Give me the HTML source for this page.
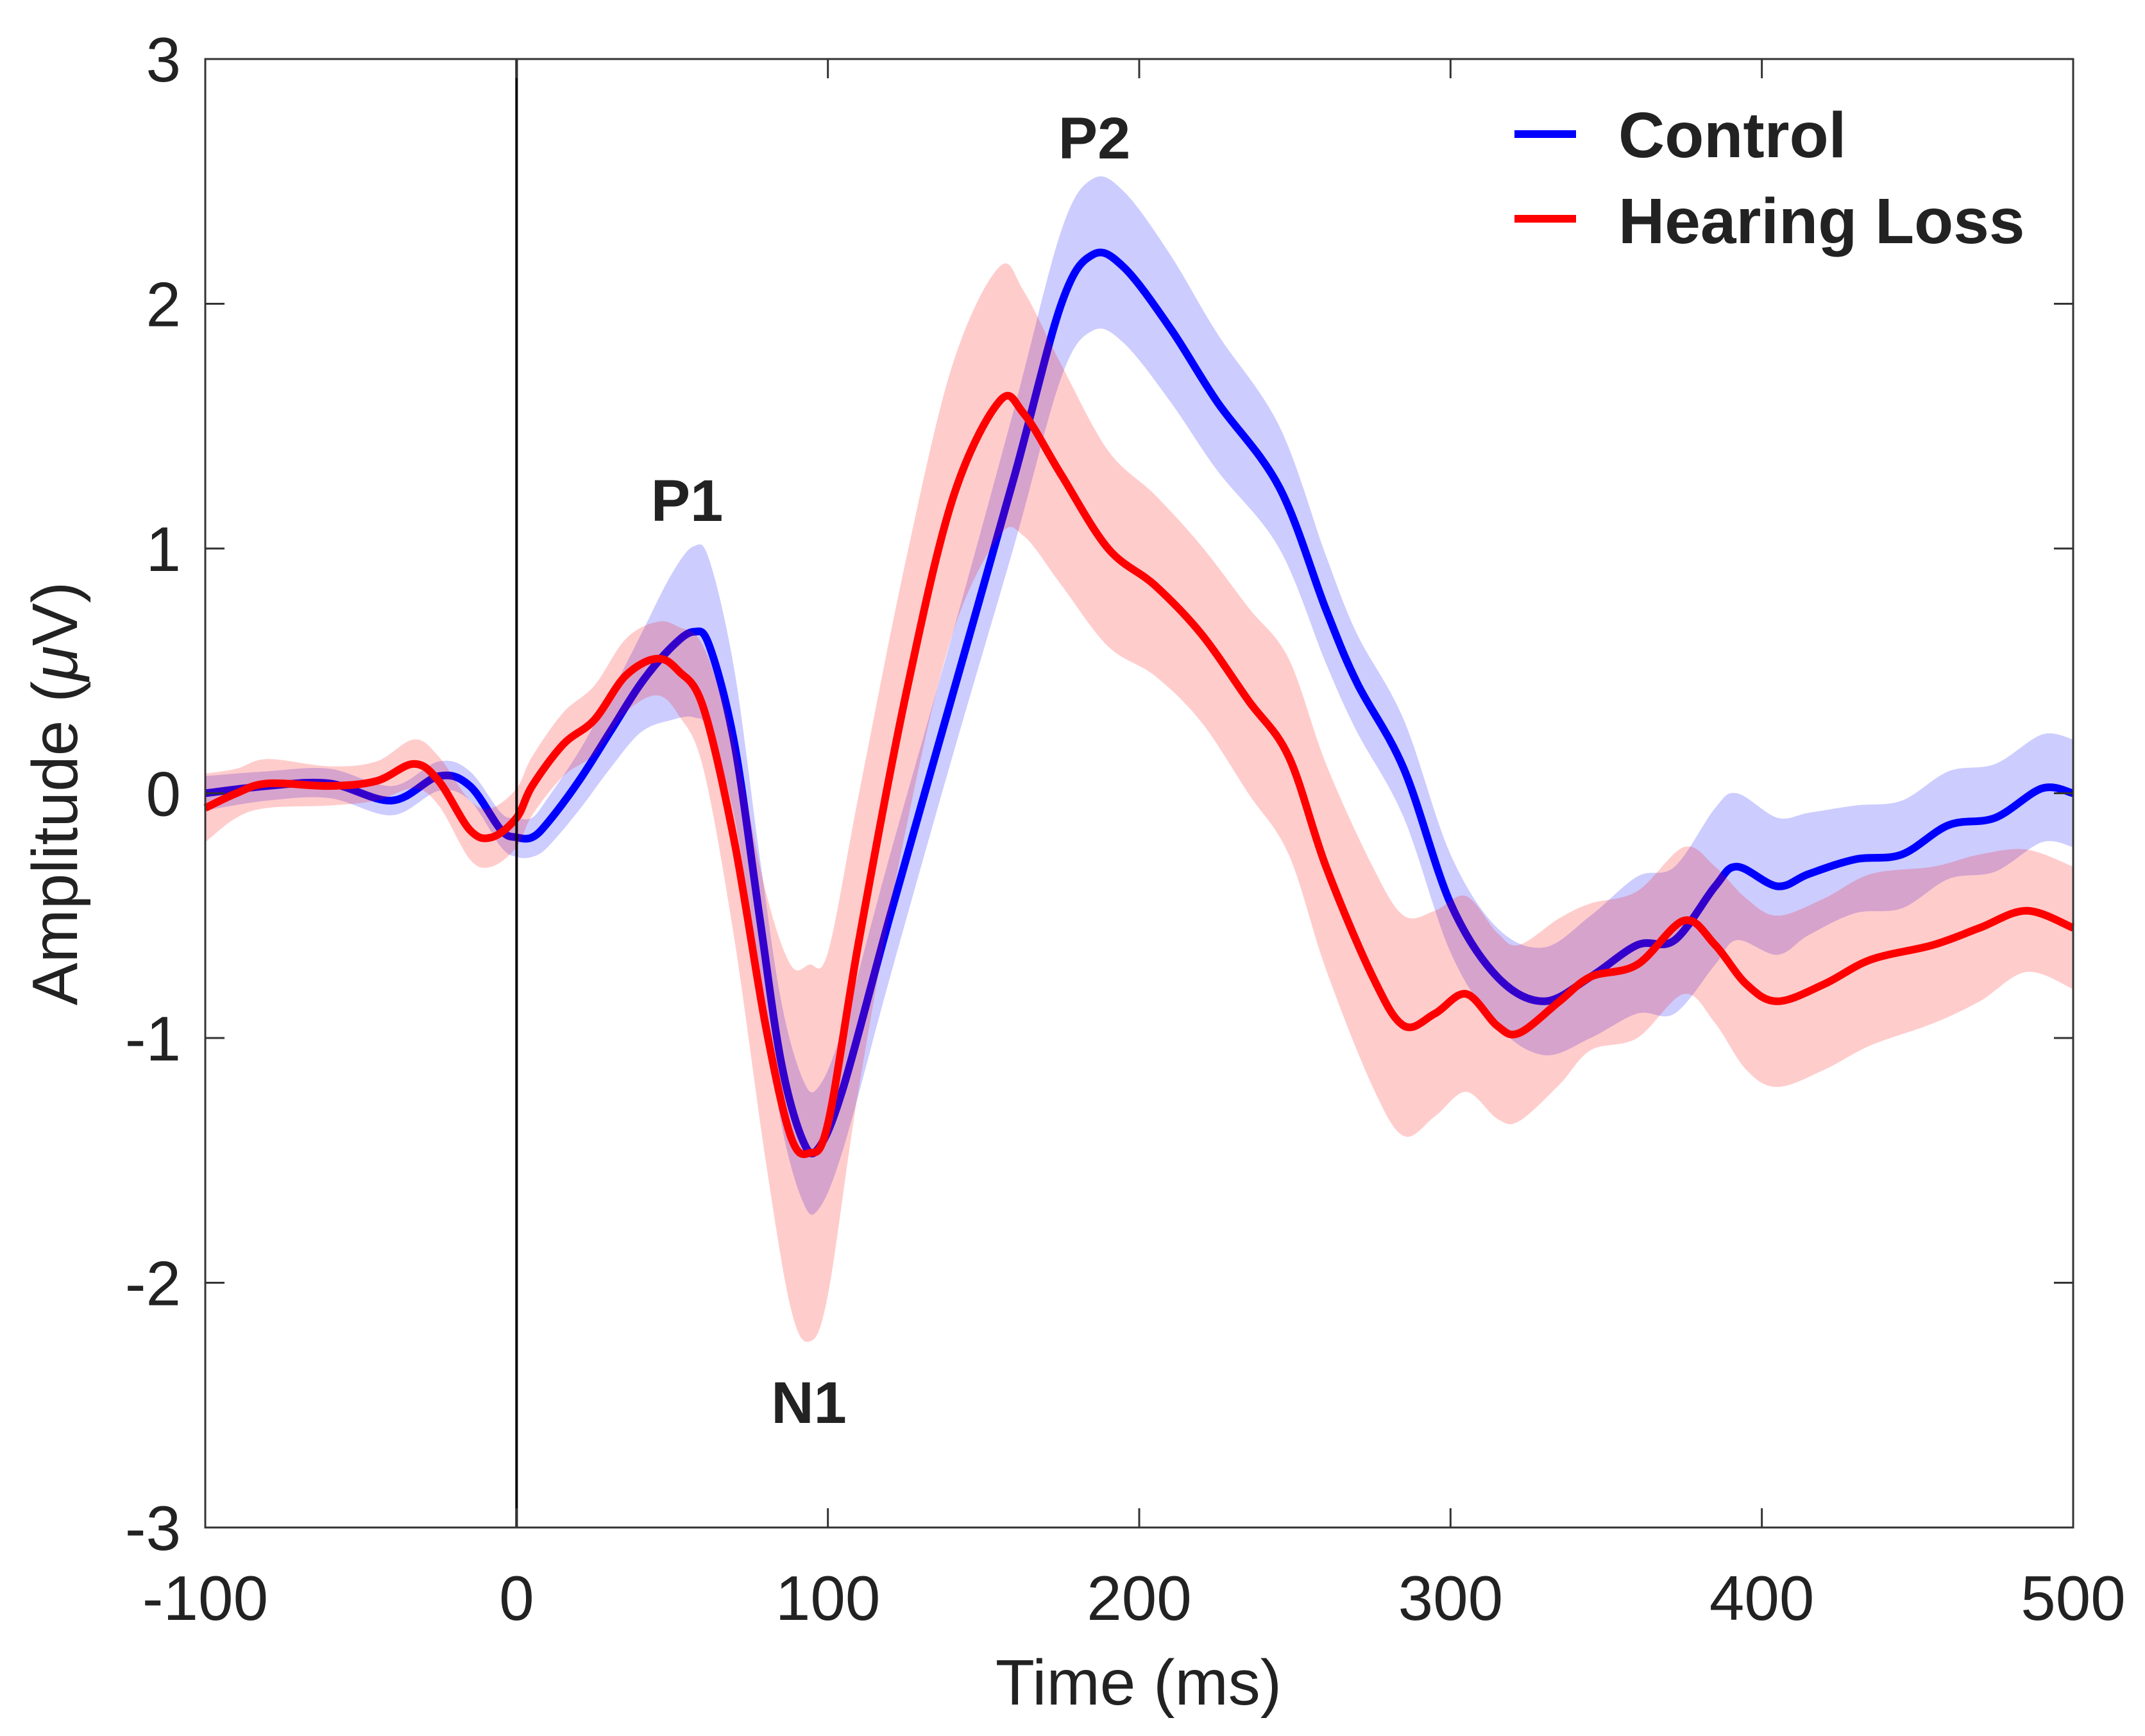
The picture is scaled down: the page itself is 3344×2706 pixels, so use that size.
<!DOCTYPE html>
<html><head><meta charset="utf-8"><style>
html,body{margin:0;padding:0;background:#fff}
svg{display:block}
text{font-family:"Liberation Sans",Arial,sans-serif;fill:#222}
</style></head><body>
<svg id="chart" width="3344" height="2706" viewBox="0 0 3344 2706" xmlns="http://www.w3.org/2000/svg">
<g id="bands"></g>
<g id="axes"></g>
</svg>
<script>
const xTicks=[-100,0,100,200,300,400,500];
const yTicks=[-3,-2,-1,0,1,2,3];
const ctrlT=[-100,-80,-60,-40,-25,-15,-5,0,5,10,20,30,40,50,57,62,70,78,85,92,97,105,120,140,160,175,185,195,210,225,245,260,270,285,300,315,330,345,360,372,385,392,405,415,430,445,460,475,490,500];
const ctrlV=[0,0.03,0.04,-0.03,0.07,0.03,-0.15,-0.18,-0.18,-0.12,0.05,0.25,0.45,0.6,0.66,0.6,0.2,-0.5,-1.1,-1.42,-1.45,-1.2,-0.5,0.4,1.3,2.0,2.2,2.15,1.9,1.6,1.25,0.75,0.45,0.1,-0.45,-0.75,-0.85,-0.75,-0.62,-0.6,-0.38,-0.3,-0.38,-0.33,-0.27,-0.25,-0.13,-0.1,0.02,0.0];
const ctrlE=[0.07,0.06,0.06,0.06,0.06,0.06,0.07,0.08,0.08,0.1,0.12,0.15,0.2,0.3,0.35,0.35,0.3,0.25,0.25,0.25,0.25,0.25,0.25,0.25,0.28,0.3,0.31,0.31,0.3,0.28,0.25,0.22,0.2,0.2,0.2,0.2,0.22,0.25,0.28,0.3,0.32,0.3,0.28,0.25,0.22,0.22,0.22,0.22,0.22,0.22];
const hlT=[-100,-90,-80,-60,-45,-33,-25,-15,-8,0,5,15,25,35,45,52,60,70,80,88,94,100,110,125,140,155,163,175,190,205,220,235,248,260,275,285,295,305,315,322,335,345,360,375,385,395,405,420,435,455,470,485,500];
const hlV=[-0.06,0,0.04,0.03,0.05,0.12,0.05,-0.15,-0.18,-0.1,0.03,0.2,0.3,0.48,0.55,0.5,0.35,-0.2,-0.95,-1.4,-1.47,-1.35,-0.6,0.4,1.2,1.6,1.55,1.3,1.0,0.85,0.65,0.38,0.15,-0.3,-0.75,-0.95,-0.9,-0.82,-0.95,-0.98,-0.85,-0.75,-0.7,-0.52,-0.62,-0.78,-0.85,-0.78,-0.68,-0.62,-0.55,-0.48,-0.55];
const hlE=[0.14,0.1,0.1,0.08,0.08,0.1,0.1,0.12,0.12,0.12,0.12,0.13,0.14,0.15,0.15,0.18,0.25,0.4,0.55,0.7,0.77,0.7,0.6,0.55,0.55,0.55,0.5,0.45,0.4,0.37,0.36,0.38,0.4,0.42,0.45,0.45,0.42,0.4,0.38,0.36,0.34,0.3,0.3,0.3,0.32,0.35,0.35,0.35,0.35,0.32,0.3,0.25,0.25];

const L=320,R=3232,T=92,B=2381;
function sx(v){return L+(v+100)/600*(R-L);}
function sy(v){return T+(3-v)/6*(B-T);}
const NS='http://www.w3.org/2000/svg';
const svg=document.getElementById('chart');
function mk(tag,attrs,parent){const e=document.createElementNS(NS,tag);for(const k in attrs)e.setAttribute(k,attrs[k]);(parent||svg).appendChild(e);return e;}
function smooth(pts){let d='M'+pts[0][0].toFixed(1)+','+pts[0][1].toFixed(1);
 for(let i=0;i<pts.length-1;i++){const p0=pts[Math.max(i-1,0)],p1=pts[i],p2=pts[i+1],p3=pts[Math.min(i+2,pts.length-1)];
 const c1=[p1[0]+(p2[0]-p0[0])/6,p1[1]+(p2[1]-p0[1])/6],c2=[p2[0]-(p3[0]-p1[0])/6,p2[1]-(p3[1]-p1[1])/6];
 d+='C'+c1[0].toFixed(1)+','+c1[1].toFixed(1)+' '+c2[0].toFixed(1)+','+c2[1].toFixed(1)+' '+p2[0].toFixed(1)+','+p2[1].toFixed(1);}
 return d;}
function bandPath(t,v,e){const up=t.map((x,i)=>[sx(x),sy(v[i]+e[i])]);const lo=t.map((x,i)=>[sx(x),sy(v[i]-e[i])]).reverse();
 return smooth(up)+'L'+smooth(lo).slice(1)+'Z';}
const g=document.getElementById('bands');
let el;
el=mk('path',{d:bandPath(ctrlT,ctrlV,ctrlE),fill:'rgba(0,0,255,0.2)'},g);


el=mk('path',{d:smooth(ctrlT.map((x,i)=>[sx(x),sy(ctrlV[i])])),fill:'none',stroke:'#0000ff','stroke-width':12},g);


el=mk('path',{d:bandPath(hlT,hlV,hlE),fill:'rgba(255,0,0,0.2)'},g);


el=mk('path',{d:smooth(hlT.map((x,i)=>[sx(x),sy(hlV[i])])),fill:'none',stroke:'#ff0000','stroke-width':12},g);



const a=document.getElementById('axes');
el=mk('line',{x1:sx(0),x2:sx(0),y1:T,y2:B,stroke:'#000','stroke-width':4},a);


el=mk('rect',{x:L,y:T,width:R-L,height:B-T,fill:'none',stroke:'#333','stroke-width':3},a);


xTicks.forEach(v=>{const x=sx(v);
 el=mk('line',{x1:x,x2:x,y1:B,y2:B-30,stroke:'#333','stroke-width':3},a);
 
 
 mk('line',{x1:x,x2:x,y1:T,y2:T+30,stroke:'#333','stroke-width':3},a);
 el=mk('text',{x:x,y:2525,'font-size':98,'text-anchor':'middle'},a);el.textContent=v;
 
 });
yTicks.forEach(v=>{const y=sy(v);
 el=mk('line',{x1:L,x2:L+30,y1:y,y2:y,stroke:'#333','stroke-width':3},a);
 
 
 mk('line',{x1:R,x2:R-30,y1:y,y2:y,stroke:'#333','stroke-width':3},a);
 el=mk('text',{x:282,y:y+35,'font-size':98,'text-anchor':'end'},a);el.textContent=v;
 
 });
</script>
<svg style="position:absolute;left:0;top:0" width="3344" height="2706">
<text x="1775" y="2657" font-size="100" text-anchor="middle">Time (ms)</text>
<text x="0" y="0" font-size="100" text-anchor="middle" transform="translate(120,1237) rotate(-90)">Amplitude (<tspan font-style="italic">μ</tspan>V)</text>
<text x="1071" y="812" font-size="92" font-weight="bold" text-anchor="middle">P1</text>
<text x="1706" y="247" font-size="92" font-weight="bold" text-anchor="middle">P2</text>
<text x="1261" y="2218" font-size="92" font-weight="bold" text-anchor="middle">N1</text>
<g>
<line x1="2361" x2="2457" y1="209" y2="209" stroke="#0000ff" stroke-width="12"/>
<text x="2523" y="245" font-size="100" font-weight="bold">Control</text>
<line x1="2361" x2="2457" y1="341" y2="341" stroke="#ff0000" stroke-width="12"/>
<text x="2523" y="379" font-size="100" font-weight="bold">Hearing Loss</text>
</g>
</svg>
</body></html>
